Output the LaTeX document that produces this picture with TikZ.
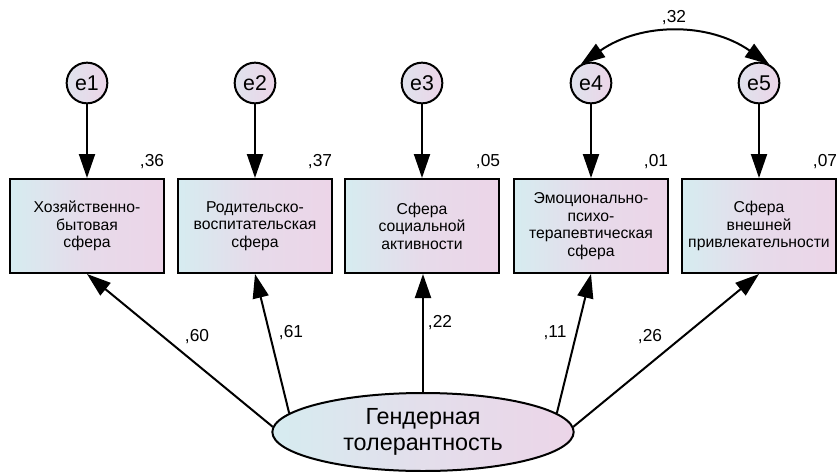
\documentclass[tikz,border=0pt]{standalone}
\usepackage{fontspec}
\setmainfont{Liberation Sans}
\usepackage{xcolor}
\usepackage{tikz}
\usetikzlibrary{calc,arrows.meta,shapes.geometric}

\definecolor{semblue}{RGB}{214,236,240}
\definecolor{sempink}{RGB}{236,213,232}

\begin{document}
\begin{tikzpicture}[x=0.75pt,y=0.75pt,
  obs/.style={draw=black,line width=1.5pt,left color=semblue,right color=sempink,middle color=sempink!75!semblue,
    minimum width=115pt,minimum height=70.5pt,inner sep=0pt,align=center,font=\fontsize{11.8}{13.2}\selectfont},
  err/.style={circle,draw=black,line width=1.5pt,left color=semblue!60!sempink,right color=sempink,
    minimum size=30.5pt,inner sep=0pt,font=\fontsize{16}{16}\selectfont},
  lat/.style={ellipse,draw=black,line width=1.5pt,left color=semblue,right color=sempink,middle color=sempink!60!semblue,
    minimum width=226pt,minimum height=58.5pt,inner sep=0pt,align=center,font=\fontsize{17.5}{20}\selectfont},
  load/.style={line width=1.5pt,-{Triangle[length=18pt,width=12pt]}},
  cov/.style={line width=1.5pt,{Triangle[length=18pt,width=12pt]}-{Triangle[length=18pt,width=12pt]}},
  coef/.style={inner sep=0pt,font=\fontsize{13}{13}\selectfont}]
\useasboundingbox (0,0) rectangle (838,-471);
    % error terms
    \node [err] (e1) at (87,-83) {e1};
    \node [err] (e2) at (255,-83) {e2};
    \node [err] (e3) at (422,-83) {e3};
    \node [err] (e4) at (591,-83) {e4};
    \node [err] (e5) at (759,-83) {e5};
    % observed variables
    \node [obs] (hoz) at (87,-226) {Хозяйственно-\\бытовая\\сфера};
    \node [obs] (rod) at (255,-226) {Родительско-\\воспитательская\\сфера};
    \node [obs] (soc) at (422,-226) {Сфера\\социальной\\активности};
    \node [obs] (emo) at (591,-226) {Эмоционально-\\психо-\\терапевтическая\\сфера};
    \node [obs] (vne) at (759,-226) {Сфера\\внешней\\привлекательности};
    % latent variable
    \node [lat] (gen) at (423,-432) {Гендерная\\толерантность};
    % residual paths
    \draw [load] (e1) -- (hoz);
    \draw [load] (e2) -- (rod);
    \draw [load] (e3) -- (soc);
    \draw [load] (e4) -- (emo);
    \draw [load] (e5) -- (vne);
    \draw [cov] (e4.118) to [bend left=35] (e5.62);
    \node [coef] (r32) at (674,-18) {,32};
    % loadings
    \draw [load] (gen.178) -- (hoz.south);
    \draw [load] (gen.172) -- (rod.south);
    \draw [load] (gen.north) -- (gen.north |- soc.south);
    \draw [load] (gen.8) -- (emo.south);
    \draw [load] (gen.2) -- (vne.south);
    \node [coef] (l60) at (197,-337) {,60};
    \node [coef] (l61) at (291,-333) {,61};
    \node [coef] (l22) at (440,-323) {,22};
    \node [coef] (l11) at (555,-333) {,11};
    \node [coef] (l26) at (650,-337) {,26};
    % squared multiple correlations
    \node [coef] (r36) at (152,-162) {,36};
    \node [coef] (r37) at (320,-162) {,37};
    \node [coef] (r05) at (488,-162) {,05};
    \node [coef] (r01) at (656,-162) {,01};
    \node [coef] (r07) at (825,-162) {,07};
\end{tikzpicture}
\end{document}
